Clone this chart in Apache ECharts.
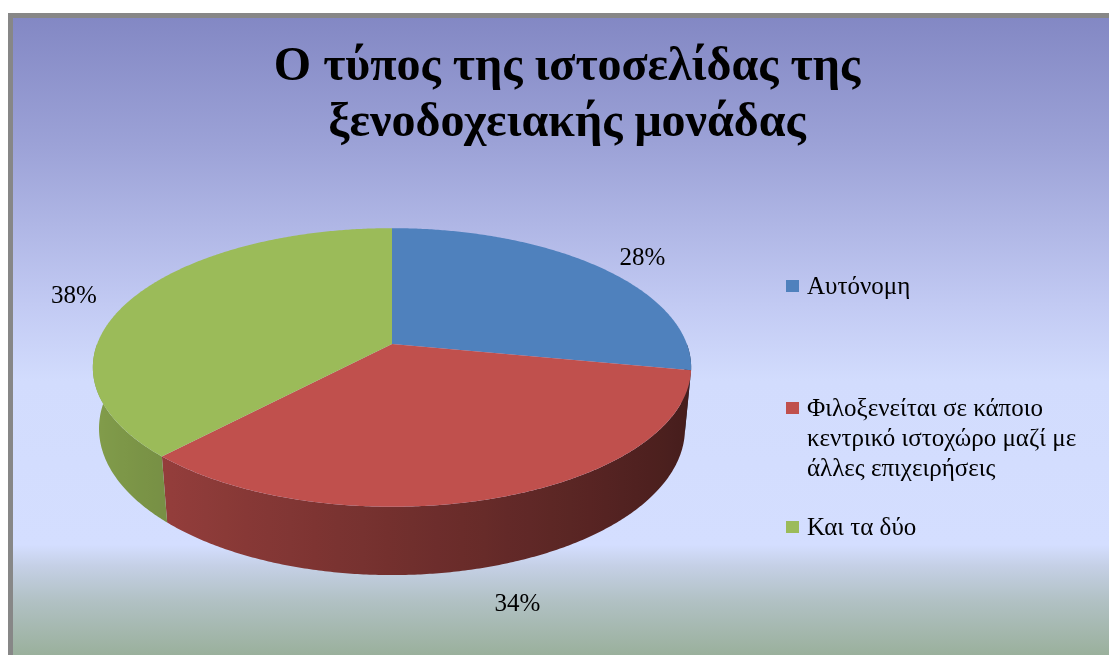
<!DOCTYPE html>
<html>
<head>
<meta charset="utf-8">
<script src="https://cdn.jsdelivr.net/npm/echarts@6/dist/echarts.min.js"></script>
<style>
  html, body { margin: 0; padding: 0; background: #ffffff; }
  #chart { width: 1109px; height: 655px; }
</style>
</head>
<body>
<div id="chart"></div>
<script>
// ---- chart data ----
const titleText = 'Ο τύπος της ιστοσελίδας της\nξενοδοχειακής μονάδας';
const categories = [
  'Αυτόνομη',
  'Φιλοξενείται σε κάποιο κεντρικό ιστοχώρο μαζί με άλλες επιχειρήσεις',
  'Και τα δύο'
];
const shares = [28, 34, 38];
const sliceColors = ['#4F81BD', '#C0504D', '#9BBB59'];

// ---- layout ----
const SERIF = '"Liberation Serif", "Times New Roman", serif';
const legendFont = '25px ' + SERIF;
const legendLeft = 786;
const legendTextWidth = 270;
const legendRowTops = [272, 394, 513];

// Perspective view of a unit disc: camera tilted down onto the pie top.
const view = { cx: 392, cy: 344, focal: 1557, dist: 5.28, tilt: Math.asin(0.459), thickness: 0.235 };
const sinT = Math.sin(view.tilt), cosT = Math.cos(view.tilt);

function project(x, y, z) {
  const d = view.dist - y * sinT - z * cosT;
  return [view.cx + view.focal * x / d, view.cy + view.focal * (z * sinT - y * cosT) / d];
}
// angle runs clockwise (seen from above) starting at the back of the disc
function rim(a, r, y) {
  return project(r * Math.sin(a), y, -r * Math.cos(a));
}
function shade(hex, k) {
  const n = parseInt(hex.slice(1), 16);
  const c = [(n >> 16) & 255, (n >> 8) & 255, n & 255].map(v => Math.max(0, Math.min(255, Math.round(v * k))));
  return 'rgb(' + c.join(',') + ')';
}
// side walls get darker towards the right
function wallFactor(a) { return 0.6 - 0.25 * Math.sin(a); }

const total = shares.reduce((s, v) => s + v, 0);
const starts = [];
shares.reduce((acc, v) => { starts.push(acc); return acc + v; }, 0);

function renderSlice(params, api) {
  const i = params.dataIndex;
  const value = api.value(0);
  const a0 = starts[i] / total * 2 * Math.PI;
  const a1 = a0 + value / total * 2 * Math.PI;
  const color = sliceColors[i];
  const step = Math.PI / 360;
  const children = [];

  // top face
  const top = [project(0, 0, 0)];
  const n = Math.max(2, Math.ceil((a1 - a0) / step));
  for (let k = 0; k <= n; k++) top.push(rim(a0 + (a1 - a0) * k / n, 1, 0));
  children.push({ type: 'polygon', shape: { points: top }, style: { fill: color }, z2: 10 });

  // visible side wall (front half of the rim)
  const w0 = Math.max(a0, Math.PI / 2), w1 = Math.min(a1, 3 * Math.PI / 2);
  if (w1 > w0) {
    const m = Math.max(2, Math.ceil((w1 - w0) / step));
    const upper = [], lower = [], angles = [];
    for (let k = 0; k <= m; k++) {
      const a = w0 + (w1 - w0) * k / m;
      angles.push(a);
      upper.push(rim(a, 1, 0));
      lower.push(rim(a, 1, -view.thickness));
    }
    const pts = upper.concat(lower.slice().reverse());
    const xs = pts.map(p => p[0]);
    const minX = Math.min.apply(null, xs), maxX = Math.max.apply(null, xs);
    const span = Math.max(1, maxX - minX);
    const stops = [];
    const every = Math.max(1, Math.floor(m / 30));
    for (let k = 0; k <= m; k += every) {
      stops.push({ offset: Math.min(1, Math.max(0, (upper[k][0] - minX) / span)), color: shade(color, wallFactor(angles[k])) });
    }
    stops.push({ offset: Math.min(1, Math.max(0, (upper[m][0] - minX) / span)), color: shade(color, wallFactor(angles[m])) });
    stops.sort((p, q) => p.offset - q.offset);
    children.push({
      type: 'polygon',
      shape: { points: pts },
      style: { fill: { type: 'linear', x: 0, y: 0, x2: 1, y2: 0, colorStops: stops } },
      z2: 2
    });
  }

  // percentage label outside the slice (front slices sit below the wall)
  const mid = (a0 + a1) / 2;
  const front = -Math.cos(mid) > 0.5;
  const lp = rim(mid, front ? 1.15 : 1.25, front ? -view.thickness : 0);
  children.push({
    type: 'text',
    x: lp[0], y: lp[1] + 10,
    style: {
      text: Math.round(value / total * 100) + '%',
      font: '25px ' + SERIF,
      fill: '#000000',
      align: 'center',
      verticalAlign: 'middle'
    },
    z2: 20
  });

  return { type: 'group', children: children };
}

// word wrap for legend names
const measureCtx = document.createElement('canvas').getContext('2d');
function wrapWords(text, font, maxWidth) {
  measureCtx.font = font;
  const words = text.split(' ');
  const lines = [];
  let line = '';
  words.forEach(w => {
    const trial = line ? line + ' ' + w : w;
    if (line && measureCtx.measureText(trial).width > maxWidth) {
      lines.push(line);
      line = w;
    } else {
      line = trial;
    }
  });
  if (line) lines.push(line);
  return lines.join('\n');
}

// legend entries built from the categories
const legendElements = [];
categories.forEach((name, i) => {
  const y = legendRowTops[i];
  legendElements.push({
    type: 'rect',
    shape: { x: legendLeft, y: y + 8, width: 13, height: 12 },
    style: { fill: sliceColors[i] }
  });
  legendElements.push({
    type: 'text',
    x: legendLeft + 21, y: y,
    style: {
      text: wrapWords(name, legendFont, legendTextWidth),
      font: legendFont,
      fill: '#000000',
      lineHeight: 30,
      verticalAlign: 'top'
    }
  });
});

const chart = echarts.init(document.getElementById('chart'), null, { renderer: 'canvas' });
chart.setOption({
  animation: false,
  title: {
    text: titleText,
    left: 567,
    textAlign: 'center',
    top: 40,
    padding: 0,
    textStyle: {
      fontFamily: SERIF,
      fontSize: 48,
      fontWeight: 'bold',
      color: '#000000',
      lineHeight: 56
    }
  },
  graphic: [
    {
      type: 'rect', z: -10, silent: true,
      shape: { x: 8, y: 13, width: 1120, height: 660 },
      style: { fill: '#878787' }
    },
    {
      type: 'rect', z: -9, silent: true,
      shape: { x: 13, y: 18, width: 1110, height: 637 },
      style: {
        fill: {
          type: 'linear', x: 0, y: 0, x2: 0, y2: 1,
          colorStops: [
            { offset: 0, color: '#8388C4' },
            { offset: 0.2, color: '#9CA2D7' },
            { offset: 0.45, color: '#C2CAF3' },
            { offset: 0.57, color: '#D2DCFD' },
            { offset: 0.827, color: '#D4DEFF' },
            { offset: 0.86, color: '#C5D0E6' },
            { offset: 0.915, color: '#B1C1C4' },
            { offset: 1, color: '#9AB09C' }
          ]
        }
      }
    }
  ].concat(legendElements),
  series: [{
    type: 'custom',
    coordinateSystem: 'none',
    data: shares.map(v => [v]),
    renderItem: renderSlice
  }]
});
</script>
</body>
</html>
